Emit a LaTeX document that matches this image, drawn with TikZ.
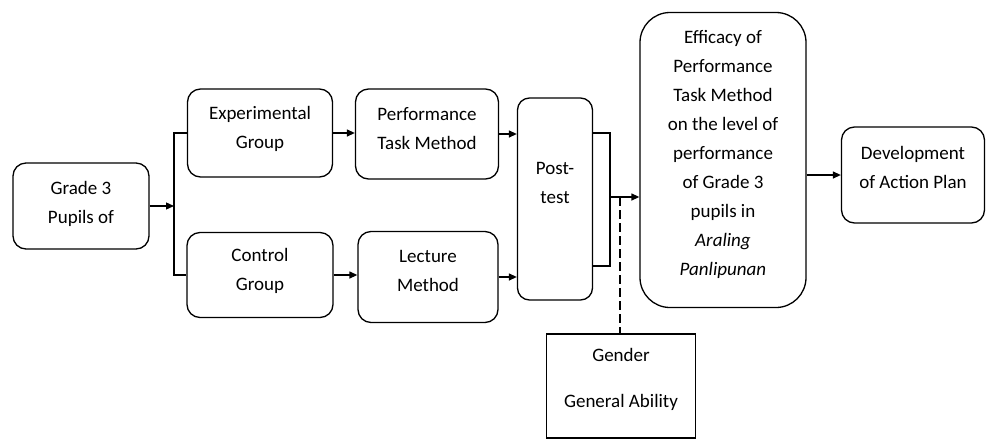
\documentclass[tikz,border=0pt]{standalone}
\usepackage{fontspec}
\setmainfont{Carlito}
\usetikzlibrary{arrows.meta,positioning,calc}

\begin{document}
\begin{tikzpicture}[x=1pt,y=-1pt,line width=1.3pt,
 box/.style={draw,rounded corners=13pt,align=center,inner sep=0pt,font=\fontsize{19}{29}\selectfont},
 plainbox/.style={draw,align=center,inner sep=0pt,font=\fontsize{19}{29}\selectfont},
 >={Triangle[length=8pt,width=7pt]}]
 \useasboundingbox (0,0) rectangle (986,440);
 \node[box,minimum width=136pt,minimum height=86pt] (grade) at (81,206) {Grade 3\\Pupils of\\[-21pt]};
 \node[box,minimum width=145pt,minimum height=88pt] (exp) at (260,133) {Experimental\\Group\\[-17pt]};
 \node[box,minimum width=146pt,minimum height=85pt] (ctrl) at (260,275) {Control\\Group\\[-17pt]};
 \node[box,minimum width=143pt,minimum height=90pt] (ptm) at (427,134) {Performance\\Task Method\\[-17pt]};
 \node[box,minimum width=140pt,minimum height=91pt] (lect) at (428,277) {Lecture\\Method\\[-17pt]};
 \node[box,rounded corners=12pt,minimum width=75pt,minimum height=202pt] (post) at (555,199) {Post-\\test\\[3pt]};
 \node[box,rounded corners=30pt,minimum width=166pt,minimum height=295pt] (eff) at (723,160)
  {Efficacy of\\Performance\\Task Method\\on the level of\\performance\\of Grade 3\\pupils in\\\textit{Araling}\\\textit{Panlipunan}\\[-15pt]};
 \node[box,minimum width=143pt,minimum height=96pt] (dev) at (913,175) {Development\\of Action Plan\\[-13pt]};
 \node[plainbox,minimum width=149pt,minimum height=104pt] (gender) at (621,386) {Gender\\[17pt]General Ability\\[-13pt]};
 % branching into the two groups
 \coordinate (split) at (174,206);
 \draw[->] (grade.east) -- (grade.east -| split);
 \draw (exp.west) -- (exp.west -| split) -- (ctrl.west -| split) -- (ctrl.west);
 \draw[->] (exp.east) -- (exp.east -| ptm.west);
 \draw[->] (ctrl.east) -- (ctrl.east -| lect.west);
 \draw[->] (ptm.east) -- (ptm.east -| post.west);
 \draw[->] (lect.east) -- (lect.east -| post.west);
 % bracket after post-test
 \coordinate (brtop) at (610,133);
 \coordinate (brbot) at (610,266);
 \coordinate (junc) at (610,197);
 \coordinate (dtop) at (620,197);
 \draw (brtop -| post.east) -- (brtop) -- (brbot) -- (brbot -| post.east);
 \draw[->] (junc) -- (junc -| eff.west);
 \draw[dash pattern=on 9pt off 4pt] (dtop) -- (dtop |- gender.north);
 \draw[->] (dev.west -| eff.east) -- (dev.west);
\end{tikzpicture}
\end{document}
